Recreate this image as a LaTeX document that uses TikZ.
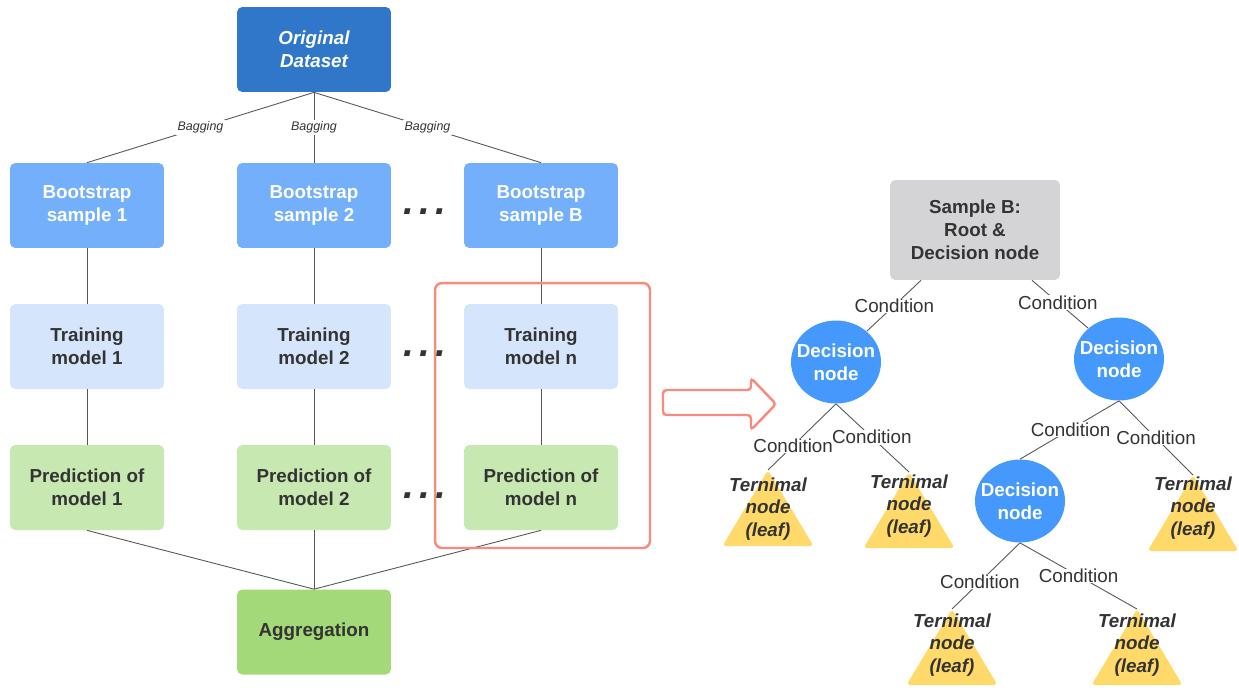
\documentclass[tikz,border=0pt]{standalone}
\usepackage{fontspec}
\setmainfont{Liberation Sans}
\usetikzlibrary{shapes.geometric}
\definecolor{origblue}{HTML}{3077C9}
\definecolor{bootblue}{HTML}{74AFFB}
\definecolor{trainblue}{HTML}{D5E6FC}
\definecolor{predgreen}{HTML}{C7E8B0}
\definecolor{agggreen}{HTML}{A4D97A}
\definecolor{decblue}{HTML}{4599FD}
\definecolor{rootgray}{HTML}{D4D4D6}
\definecolor{leafyellow}{HTML}{FFDA6B}
\definecolor{salmon}{HTML}{F78B7E}
\definecolor{textdark}{HTML}{333333}
\definecolor{linegray}{HTML}{555555}
\begin{document}
\begin{tikzpicture}[x=0.02cm,y=-0.02cm,
 font=\fontsize{10.7}{13}\selectfont\bfseries,text=textdark,
 box/.style={rounded corners=3pt,minimum width=3.08cm,minimum height=1.7cm,align=center,inner sep=2pt},
 dec/.style={ellipse,fill=decblue,text=white,minimum width=1.8cm,minimum height=1.66cm,inner xsep=-4.5pt,inner ysep=0pt,align=center},
 conn/.style={draw=linegray,line width=0.5pt},
 bag/.style={fill=white,inner sep=1pt,font=\fontsize{7.1}{8}\selectfont\mdseries\itshape},
 cond/.style={fill=white,inner sep=0.3pt,font=\fontsize{10.7}{13}\selectfont\mdseries},
 dots/.style={anchor=base,font=\fontsize{22}{22}\selectfont\bfseries\itshape},
 leaftext/.style={align=center,font=\fontsize{10.7}{12.8}\selectfont\bfseries\itshape}]
 \useasboundingbox (0,0) rectangle (1239,687);
 % bagging side
 \node[box,fill=origblue,text=white,font=\fontsize{10.7}{13}\selectfont\bfseries\itshape] (orig) at (314,49.5) {Original\\Dataset};
 \node[box,fill=agggreen] (agg) at (314,632) {Aggregation};
 \foreach \i/\x/\b/\m in {1/87/1/1, 2/314/2/2, 3/541/B/n}
 {
 \node[box,fill=bootblue,text=white] (boot\i) at (\x,205.5) {Bootstrap\\sample \b};
 \node[box,fill=trainblue] (train\i) at (\x,346.5) {Training\\model \m};
 \node[box,fill=predgreen] (pred\i) at (\x,487.5) {Prediction of\\model \m};
 \draw[conn] (orig.south) -- node[bag]{Bagging} (boot\i.north);
 \draw[conn] (boot\i) -- (train\i);
 \draw[conn] (train\i) -- (pred\i);
 \draw[conn] (pred\i.south) -- (agg.north);
 }
 \foreach \y [count=\k] in {214,356,498}
 \node[dots] (dots\k) at (425,\y) {.\hspace{3pt}.\hspace{3pt}.};
 % highlight and arrow
 \node[draw=salmon,line width=1.4pt,rounded corners=4pt,minimum width=4.3cm,minimum height=5.3cm] (focus) at (542.5,415.5) {};
 \draw[salmon,line width=1.4pt,rounded corners=2pt] (663,390) -- (751,390) -- (751,378) -- (776,404) -- (751,430) -- (751,415) -- (663,415) -- cycle;
 % tree side
 \node[box,fill=rootgray,minimum width=3.4cm,minimum height=2cm] (root) at (975,230) {Sample B:\\Root \&\\Decision node};
 \node[dec] (d1) at (836,362) {Decision\\node};
 \node[dec] (d2) at (1119,359) {Decision\\node};
 \node[dec] (d3) at (1020,501) {Decision\\node};
 \foreach \nm/\x/\y/\ty in {l1/768/470/509, l2/909/472/506, l3/1193/475/508, l4/952/609/645, l5/1137/609/645}
 {
 \fill[leafyellow,rounded corners=2pt] (\x,\y) -- (\x+45.5,\y+76) -- (\x-45.5,\y+76) -- cycle;
 \coordinate (\nm) at (\x,\y);
 \node[leaftext] (\nm text) at (\x,\ty) {Ternimal\\node\\(leaf)};
 }
 \draw[conn] ([xshift=-1.08cm]root.south) -- node[cond,pos=0.49]{Condition} (d1.45);
 \draw[conn] ([xshift=1.14cm]root.south) -- node[cond,pos=0.46]{Condition} (d2.135);
 \draw[conn] (d1.south) -- node[cond,pos=0.63]{Condition} (l1);
 \draw[conn] (d1.south) -- node[cond,pos=0.49]{Condition} (l2);
 \draw[conn] (d2.south) -- node[cond,pos=0.49]{Condition} (d3.north);
 \draw[conn] (d2.south) -- node[cond,pos=0.5]{Condition} (l3);
 \draw[conn] (d3.south) -- node[cond,pos=0.59]{Condition} (l4);
 \draw[conn] (d3.south) -- node[cond,pos=0.5]{Condition} (l5);
\end{tikzpicture}
\end{document}
